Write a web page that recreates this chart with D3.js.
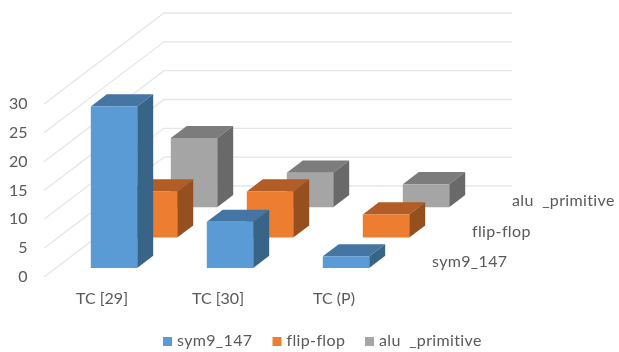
<!DOCTYPE html>
<html><head><meta charset="utf-8">
<script src="https://cdn.jsdelivr.net/npm/d3@7"></script>
<style>
html,body{margin:0;padding:0;background:#fff}
svg{display:block;filter:blur(0.4px)}
text{font-family:Lato,"Open Sans",sans-serif;font-size:16px;fill:#595959}
text.series{word-spacing:4px;letter-spacing:0.35px}
</style></head><body>
<svg id="c" width="619" height="352"></svg>
<script>
const categories = ["TC [29]", "TC [30]", "TC (P)"];
const seriesNames = ["sym9_147", "flip-flop", "alu _primitive"];
const sym9 = [28, 8, 2];
const flipFlop = [8, 8, 4];
const aluPrimitive = [12, 6, 4];
const valueTicks = [0, 5, 10, 15, 20, 25, 30];
const seriesValues = [sym9, flipFlop, aluPrimitive];
const faceColors = [
  {front:"#5B9BD5", top:"#4575A2", side:"#386488"},
  {front:"#ED7D31", top:"#B15D25", side:"#96501F"},
  {front:"#A5A5A5", top:"#7C7C7C", side:"#696969"}
];

const svg = d3.select("#c");
const x = d3.scaleBand().domain(categories).range([0, 348]).paddingInner(0.6).paddingOuter(0.3);
const y = d3.scaleLinear().domain([0, 30]).range([0, 173]);
const z = d3.scaleBand().domain(seriesNames).range([0, 1]).paddingInner(0.6).paddingOuter(0.3);
const ORIGIN = {x: 44, y: 277}, DEPTH = {x: 120, y: -91};
const P = (u, v, d) => [ORIGIN.x + u + d * DEPTH.x, ORIGIN.y - y(v) + d * DEPTH.y];
const line = d3.line();

const grid = svg.append("g").attr("fill", "none").attr("stroke", "#E6E6E6").attr("stroke-width", 1.3);
valueTicks.forEach(t => {
  grid.append("path").attr("d", line([P(0, t, 0), P(0, t, 1), P(348, t, 1)]));
});

for (let s = seriesNames.length - 1; s >= 0; s--) {
  const d0 = z(seriesNames[s]), d1 = d0 + z.bandwidth();
  const c = faceColors[s];
  const g = svg.append("g");
  for (let i = categories.length - 1; i >= 0; i--) {
    const u0 = x(categories[i]), u1 = u0 + x.bandwidth(), v = seriesValues[s][i];
    g.append("path").attr("fill", c.top).attr("d", line([P(u0, v, d0), P(u1, v, d0), P(u1, v, d1), P(u0, v, d1)]) + "Z");
    g.append("path").attr("fill", c.side).attr("d", line([P(u1, 0, d0), P(u1, v, d0), P(u1, v, d1), P(u1, 0, d1)]) + "Z");
    g.append("path").attr("fill", c.front).attr("d", line([P(u0, 0, d0), P(u1, 0, d0), P(u1, v, d0), P(u0, v, d0)]) + "Z");
  }
}

svg.append("g").selectAll("text").data(valueTicks).join("text")
  .attr("x", 27.5).attr("y", t => P(0, t, 0)[1] + 5)
  .attr("text-anchor", "end").text(t => t);

svg.append("g").selectAll("text").data(categories).join("text")
  .attr("x", c => P(x(c) + x.bandwidth() / 2, 0, 0)[0]).attr("y", 304)
  .attr("text-anchor", "middle").text(c => c);

svg.append("g").selectAll("text").data(seriesNames).join("text")
  .attr("class", "series")
  .attr("x", s => P(348, 0, z(s))[0] + 28)
  .attr("y", s => P(348, 0, z(s))[1] - 1)
  .text(s => s);

const legendX = [163, 272.5, 365];
const legend = svg.append("g").selectAll("g").data(seriesNames).join("g")
  .attr("transform", (s, i) => `translate(${legendX[i]},337)`);
legend.append("rect").attr("width", 9).attr("height", 9)
  .attr("fill", (s, i) => faceColors[i].front);
legend.append("text").attr("class", "series").attr("x", 14).attr("y", 9).text(s => s);
</script>
</body></html>
